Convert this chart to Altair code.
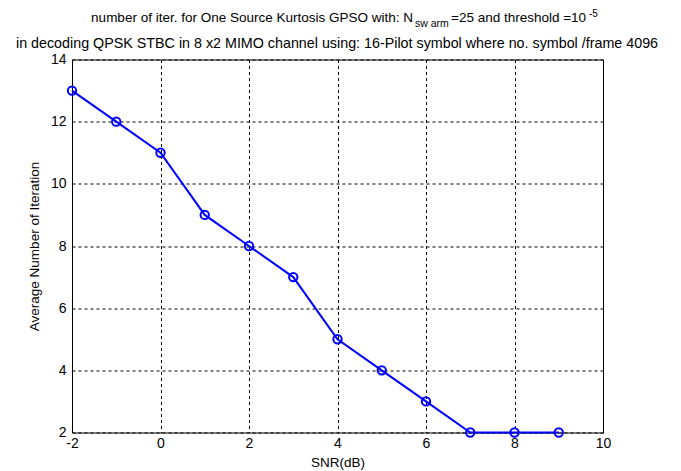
import altair as alt
import pandas as pd

# ---- data ----
snr = [-2, -1, 0, 1, 2, 3, 4, 5, 6, 7, 8, 9]
iterations = [13, 12, 11, 9, 8, 7, 5, 4, 3, 2, 2, 2]
x_ticks = [-2, 0, 2, 4, 6, 8, 10]
y_ticks = [2, 4, 6, 8, 10, 12, 14]

title1_a = "number of iter. for One Source Kurtosis GPSO with: N"
title1_sub = "sw arm"
title1_b = "=25 and threshold =10"
title1_sup = "-5"
title2 = "in decoding QPSK STBC in 8 x2 MIMO channel using: 16-Pilot symbol where no. symbol /frame 4096"

df = pd.DataFrame({"snr": snr, "it": iterations})

W, H = 531, 373
OX, OY = 72, 59.5  # page position of plot origin
FONT = "Liberation Sans"
BLUE = "#0000ff"

x_enc = alt.X(
    "snr:Q",
    scale=alt.Scale(domain=[-2, 10], nice=False, zero=False),
    axis=alt.Axis(values=x_ticks, title="SNR(dB)", labelExpr="datum.value + ''"),
)
y_enc = alt.Y(
    "it:Q",
    scale=alt.Scale(domain=[2, 14], nice=False, zero=False),
    axis=alt.Axis(values=y_ticks, title="Average Number of Iteration", labelExpr="datum.value + ''"),
)

line = alt.Chart(df).mark_line(color=BLUE, strokeWidth=2).encode(x=x_enc, y=y_enc)
pts = alt.Chart(df).mark_point(
    shape="circle", filled=False, color=BLUE, size=70, strokeWidth=2, opacity=1
).encode(x="snr:Q", y="it:Q")


def txt(s, px, py, size, align):
    return alt.Chart(pd.DataFrame({"t": [s]})).mark_text(
        font=FONT, fontSize=size, align=align, baseline="alphabetic", color="black", clip=False
    ).encode(text="t:N", x=alt.value(px - OX), y=alt.value(py - OY))


titles = (
    txt(title1_a, 413, 22, 13.5, "right")
    + txt(title1_sub, 415, 27, 10.5, "left")
    + txt(title1_b, 451, 22, 13.5, "left")
    + txt(title1_sup, 589, 17, 10, "left")
    + txt(title2, 337, 48, 14.3, "center")
)

chart = (
    alt.layer(line, pts, titles)
    .properties(
        width=W,
        height=H,
        autosize=alt.AutoSizeParams(type="none"),
        padding={"left": 64, "top": 51.5, "right": 70, "bottom": 39},
        background="white",
    )
    .configure_view(stroke="black", strokeWidth=1)
    .configure_axis(
        grid=True,
        gridColor="black",
        gridDash=[3, 3],
        gridOpacity=1,
        gridWidth=1,
        domain=False,
        ticks=False,
        labelFlush=False,
        labelFont=FONT,
        labelFontSize=14,
        labelColor="black",
        titleFont=FONT,
        titleFontSize=13.5,
        titleFontWeight="normal",
        titleColor="black",
    )
    .configure_axisX(labelPadding=4, titlePadding=5)
    .configure_axisY(labelPadding=6, titlePadding=9)
)

chart.save("out.html", embed_options={"renderer": "svg", "actions": False})
